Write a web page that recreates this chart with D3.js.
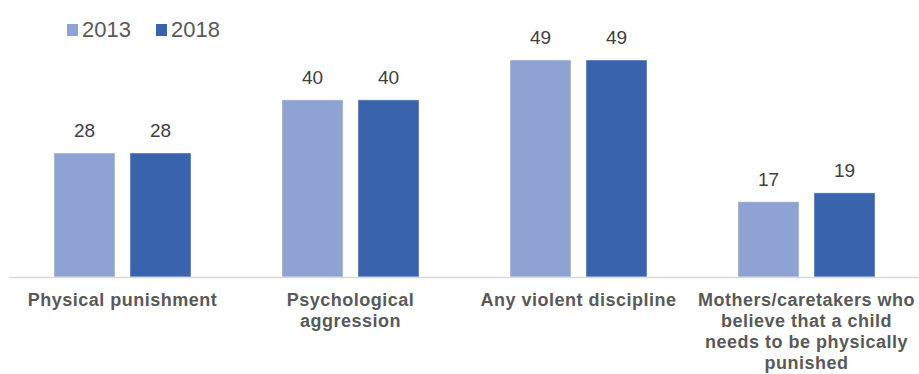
<!DOCTYPE html>
<html><head><meta charset="utf-8">
<script src="https://cdn.jsdelivr.net/npm/d3@7"></script>
<style>body{margin:0;background:#fff}svg{display:block}</style>
</head><body>
<svg id="c" width="919" height="374"></svg>
<script>
const categories = ["Physical punishment","Psychological aggression","Any violent discipline","Mothers/caretakers who believe that a child needs to be physically punished"];
const categoryLines = [["Physical punishment"],["Psychological","aggression"],["Any violent discipline"],["Mothers/caretakers who","believe that a child","needs to be physically","punished"]];
const seriesNames = ["2013","2018"];
const values2013 = [28,40,49,17];
const values2018 = [28,40,49,19];
const colors = ["#8FA3D3","#3A63AD"];

const svg = d3.select("#c");
const seriesVals = [values2013, values2018];
const x0 = d3.scaleBand().domain(categories).range([8.5, 920.5]).padding(0);
const x1 = d3.scaleBand().domain(seriesNames).range([45.5, 182.5]).paddingInner(2 - 137/76).paddingOuter(0);
const y = d3.scaleLinear().domain([0, 49]).range([277, 60]);

const g = svg.append("g");
categories.forEach((c, i) => {
  const gg = g.append("g").attr("transform", `translate(${x0(c)},0)`);
  seriesNames.forEach((s, j) => {
    const v = seriesVals[j][i];
    gg.append("rect")
      .attr("x", x1(s)).attr("y", y(v))
      .attr("width", x1.bandwidth()).attr("height", y(0) - y(v))
      .attr("fill", colors[j]).attr("stroke", "rgba(255,255,255,0.45)").attr("stroke-width", 1);
    gg.append("text")
      .attr("x", x1(s) + x1.bandwidth()/2).attr("y", y(v) - 16)
      .attr("text-anchor", "middle")
      .attr("font-family", "Liberation Sans, Arial, sans-serif")
      .attr("font-size", 19).attr("fill", "#404040")
      .text(v);
  });
});

// axis baseline
const axis = svg.append("g").attr("transform", `translate(0,${y(0)})`)
  .call(d3.axisBottom(x0).tickSize(0).tickFormat(""));
axis.select(".domain").attr("stroke", "#d9d9d9").attr("stroke-width", 1.5)
  .attr("d", "M9,0.5H919");

// category labels
categories.forEach((c, i) => {
  const t = svg.append("text")
    .attr("text-anchor", "middle")
    .attr("font-family", "Liberation Sans, Arial, sans-serif")
    .attr("font-weight", "bold").attr("font-size", 18)
    .attr("letter-spacing", 0.5)
    .attr("fill", "#595959");
  categoryLines[i].forEach((ln, k) => {
    t.append("tspan").attr("x", x0(c) + x0.bandwidth()/2).attr("y", 306 + k*21).text(ln);
  });
});

// legend
const legX = [67, 156];
seriesNames.forEach((s, j) => {
  svg.append("rect").attr("x", legX[j]).attr("y", 24).attr("width", 11).attr("height", 12).attr("fill", colors[j]);
  svg.append("text").attr("x", legX[j] + 15).attr("y", 36.7)
    .attr("font-family", "Liberation Sans, Arial, sans-serif")
    .attr("font-size", 22).attr("fill", "#595959").text(s);
});
</script>
</body></html>
